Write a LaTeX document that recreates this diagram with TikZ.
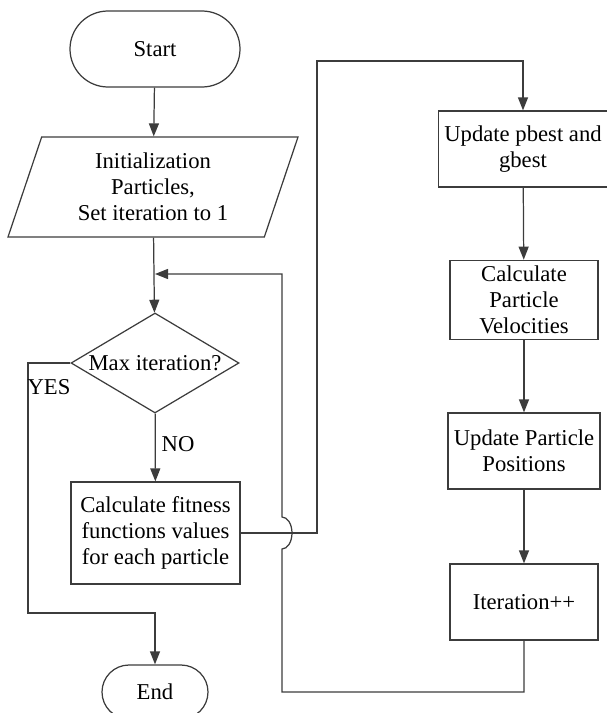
\documentclass[tikz,border=0pt]{standalone}
\usepackage{fontspec}
\setmainfont{Liberation Serif}
\usepackage{tikz}
\usetikzlibrary{shapes.geometric, arrows.meta, positioning}
\definecolor{flowgray}{RGB}{60,60,60}
\newcommand{\flowfont}{\fontsize{12.9}{14.7}\selectfont}

\begin{document}
\begin{tikzpicture}[
    terminal/.style={rectangle, draw=flowgray, line width=0.7pt, rounded corners=0.76cm, minimum width=3.4cm, minimum height=1.52cm, font=\flowfont},
    io/.style={trapezium, trapezium left angle=67, trapezium right angle=113, trapezium stretches body, draw=flowgray, line width=0.7pt, minimum width=5.8cm, minimum height=2cm, align=center, font=\flowfont},
    decision/.style={diamond, draw=flowgray, line width=0.7pt, inner sep=0pt, shape aspect=1.68, minimum width=3.36cm, minimum height=2cm, font=\flowfont},
    process/.style={rectangle, draw=flowgray, line width=0.7pt, minimum width=2.96cm, minimum height=1.52cm, align=center, font=\flowfont},
    arrow/.style={-{Triangle[length=0.26cm,width=0.2cm]}, draw=flowgray, line width=0.7pt},
    line/.style={draw=flowgray, line width=0.7pt}
]
\useasboundingbox (0,0) rectangle (12.12,-14.26);

% left column
\node[terminal] (start) at (3.10,-0.98) {Start};
\node[io] (init) at (3.06,-3.74) {Initialization\\Particles,\\Set iteration to 1};
\node[decision] (maxit) at (3.10,-7.26) {Max iteration?};
\node[process, minimum width=3.38cm, minimum height=2.04cm] (fitness) at (3.11,-10.66) {Calculate fitness\\functions values\\for each particle};
\node[terminal, minimum width=2.12cm, minimum height=1.08cm, rounded corners=0.54cm] (end) at (3.10,-13.84) {End};

% right column
\node[process, minimum width=3.24cm] (pbest) at (10.46,-2.98) {Update pbest and\\gbest};
\node[process] (velocity) at (10.48,-6.0) {Calculate\\Particle\\Velocities};
\node[process] (position) at (10.48,-9.02) {Update Particle\\Positions};
\node[process] (iter) at (10.48,-12.04) {Iteration++};

\coordinate (join) at (3.10,-5.48);
\coordinate (loopcorner) at (5.64,-13.84);
\coordinate (jumplow) at (5.64,-10.98);
\coordinate (upcorner) at (6.34,-1.22);
\coordinate (yescorner) at (0.56,-12.26);

\draw[arrow] (start) -- (init);
\draw[arrow] (init) -- (maxit);
\draw[arrow] (maxit) -- node[right, font=\flowfont, pos=0.45] {NO} (fitness);
\draw[arrow] (maxit.west) -| (yescorner) -| (end.north);
\node[font=\flowfont] (yes) at (0.98,-7.74) {YES};

\draw[arrow] (fitness.east) -| (upcorner) -| (pbest.north);
\draw[arrow] (pbest) -- (velocity);
\draw[arrow] (velocity) -- (position);
\draw[arrow] (position) -- (iter);

% loop back, hopping over the line from the fitness box
\draw[arrow] (iter.south) |- (loopcorner) -- (jumplow)
    arc[start angle=-90, end angle=90, x radius=0.2cm, y radius=0.32cm]
    |- (join);
\end{tikzpicture}
\end{document}
